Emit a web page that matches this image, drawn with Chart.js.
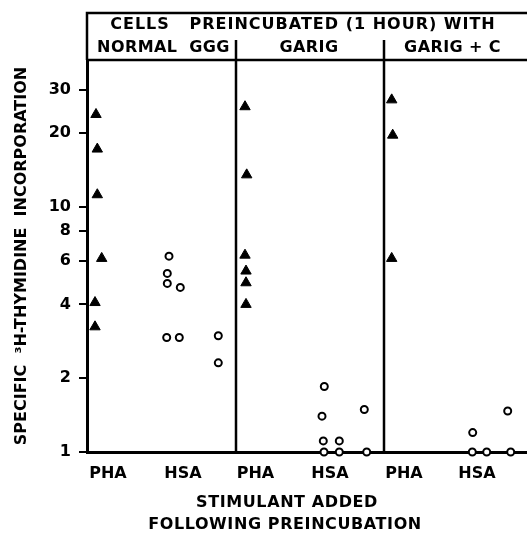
<!DOCTYPE html>
<html>
<head>
<meta charset="utf-8">
<script src="https://cdn.jsdelivr.net/npm/chart.js@4.4.1/dist/chart.umd.min.js"></script>
<style>
  html, body { margin: 0; padding: 0; background: #fff; }
</style>
</head>
<body>
<canvas id="chart" width="527" height="534"></canvas>
<script>
// ── data ─────────────────────────────────────────────────
// x is a free "lane" position (0..44) inside the plot, y is the log value
const headerTitle = "CELLS   PREINCUBATED (1 HOUR) WITH";
const groupLabels = ["NORMAL  GGG", "GARIG", "GARIG + C"];
const categoryLabels = ["PHA", "HSA", "PHA", "HSA", "PHA", "HSA"];
const categoryPos = [2.1, 9.6, 16.85, 24.3, 31.7, 39.0];
const panelBreaks = [14.9, 29.7];
const yTicks = [1, 2, 4, 6, 8, 10, 20, 30];

// NORMAL GGG
const gggPhaX = [0.9, 1.03, 1.03, 1.47, 0.8, 0.8];
const gggPhaY = [23.8, 17.2, 11.2, 6.16, 4.07, 3.24];
const gggHsaX = [8.2, 8.03, 8.03, 9.33, 7.97, 9.23, 13.13, 13.13];
const gggHsaY = [6.29, 5.35, 4.87, 4.69, 2.93, 2.93, 2.98, 2.31];

// GARIG
const garigPhaX = [15.8, 15.97, 15.8, 15.9, 15.9, 15.9];
const garigPhaY = [25.6, 13.5, 6.35, 5.47, 4.9, 4.0];
const garigHsaX = [23.73, 23.5, 23.63, 25.23, 27.73, 23.7, 25.23, 27.97];
const garigHsaY = [1.85, 1.4, 1.11, 1.11, 1.49, 1, 1, 1];

// GARIG + C
const garigCPhaX = [30.47, 30.57, 30.47];
const garigCPhaY = [27.3, 19.6, 6.16];
const garigCHsaX = [38.57, 42.07, 38.53, 39.97, 42.37];
const garigCHsaY = [1.2, 1.47, 1, 1, 1];

const FONT = "'DejaVu Sans', sans-serif";

function pts(xs, ys) {
  return xs.map((x, i) => ({ x, y: ys[i] }));
}

function triangles(label, xs, ys) {
  return {
    label, data: pts(xs, ys), pointStyle: "triangle", pointRadius: 6,
    backgroundColor: "#000", borderColor: "#000", borderWidth: 1, clip: false,
  };
}

function circles(label, xs, ys) {
  return {
    label, data: pts(xs, ys), pointStyle: "circle", pointRadius: 3.5,
    backgroundColor: "#fff", borderColor: "#000", borderWidth: 2, clip: false,
  };
}

// header box, panel dividers and the stacked text that Chart.js has no slot for
const framePlugin = {
  id: "frame",
  beforeDatasetsDraw(chart) {
    const { ctx, chartArea: a, scales: { x } } = chart;
    ctx.save();
    ctx.strokeStyle = "#000";
    ctx.lineWidth = 2.5;
    ctx.beginPath();
    ctx.moveTo(a.left, a.top);
    ctx.lineTo(a.left, 13);
    ctx.lineTo(a.right, 13);
    ctx.moveTo(a.left, a.top);
    ctx.lineTo(a.right, a.top);
    panelBreaks.forEach((v) => {
      const px = x.getPixelForValue(v);
      ctx.moveTo(px, 40);
      ctx.lineTo(px, a.bottom);
    });
    ctx.stroke();

    ctx.fillStyle = "#000";
    ctx.font = `bold 16px ${FONT}`;
    ctx.letterSpacing = "1px";
    ctx.textAlign = "center";
    ctx.textBaseline = "middle";
    ctx.fillText(headerTitle, 303, 25);
    ctx.letterSpacing = "0.4px";
    const edges = [0, ...panelBreaks, x.max];
    const nudge = [2, -1, -3];
    groupLabels.forEach((g, i) => {
      ctx.fillText(g, x.getPixelForValue((edges[i] + edges[i + 1]) / 2) + nudge[i], 48);
    });

    ctx.letterSpacing = "0.6px";
    ctx.fillText("STIMULANT ADDED", 287, 503);
    ctx.fillText("FOLLOWING PREINCUBATION", 285, 525);
    ctx.restore();
  },
};

const datasets = [
  triangles("NORMAL GGG · PHA", gggPhaX, gggPhaY),
  circles("NORMAL GGG · HSA", gggHsaX, gggHsaY),
  triangles("GARIG · PHA", garigPhaX, garigPhaY),
  circles("GARIG · HSA", garigHsaX, garigHsaY),
  triangles("GARIG + C · PHA", garigCPhaX, garigCPhaY),
  circles("GARIG + C · HSA", garigCHsaX, garigCHsaY),
];

new Chart(document.getElementById("chart"), {
  type: "scatter",
  data: { datasets },
  options: {
    responsive: false,
    animation: false,
    layout: { autoPadding: false, padding: { top: 60, left: 0, right: 0, bottom: 0 } },
    plugins: { legend: { display: false }, tooltip: { enabled: false } },
    scales: {
      x: {
        type: "linear",
        min: 0,
        max: 44,
        afterBuildTicks: (s) => { s.ticks = categoryPos.map((v) => ({ value: v })); },
        afterFit: (s) => { s.height = 82; },
        ticks: {
          color: "#000", padding: 4, autoSkip: false, maxRotation: 0,
          font: { family: FONT, size: 16, weight: "bold" },
          callback: (v, i) => categoryLabels[i],
        },
        grid: { display: false },
        border: { color: "#000", width: 3 },
      },
      y: {
        type: "logarithmic",
        min: 1,
        max: 39.7,
        afterBuildTicks: (s) => { s.ticks = yTicks.map((v) => ({ value: v })); },
        afterFit: (s) => { s.width = 87; },
        ticks: {
          color: "#000", padding: 8, autoSkip: false,
          font: { family: FONT, size: 16, weight: "bold" },
          callback: (v) => String(v),
        },
        grid: { drawOnChartArea: false, drawTicks: true, tickLength: 8, color: "#000", lineWidth: 2 },
        border: { color: "#000", width: 3 },
        title: {
          display: true,
          text: "SPECIFIC  \u00B3H-THYMIDINE  INCORPORATION",
          color: "#000",
          font: { family: FONT, size: 16, weight: "bold", lineHeight: 1 },
          padding: { top: 14, bottom: 0 },
        },
      },
    },
  },
  plugins: [framePlugin],
});
</script>
</body>
</html>
